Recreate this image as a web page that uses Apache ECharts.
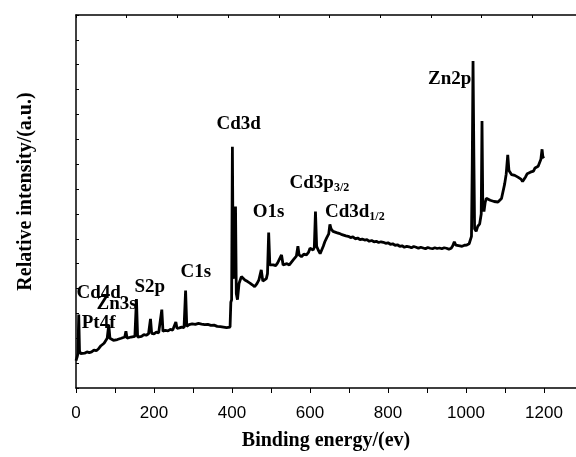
<!DOCTYPE html>
<html>
<head>
<meta charset="utf-8">
<script src="https://cdn.jsdelivr.net/npm/echarts@6/dist/echarts.min.js"></script>
<style>
    html, body { margin: 0; padding: 0; background: #fff; }
    #xps { width: 576px; height: 457px; }
</style>
</head>
<body>
<div id="xps"></div>
<script>
    // survey spectrum (binding energy in eV, intensity in axis units)
    const energy = [
        0, 3, 5, 7, 9, 12, 17, 22, 28, 34, 40, 46, 52, 58, 64, 68, 72, 76, 80, 84, 87, 91, 96, 101, 106, 111, 116, 121, 125, 128, 131, 136, 141, 146, 151, 155, 158, 163, 168, 174, 180, 186, 191, 194, 200, 206, 212, 217, 220, 223, 229, 236, 242, 248, 253, 256, 259, 265, 271, 277, 281, 284, 290, 298, 306, 314, 322, 330, 338, 346, 354, 362, 370, 378, 386, 391, 395, 397, 399, 401, 403, 406, 409, 411, 414, 418, 424, 429, 433, 440, 446, 452, 458, 464, 469, 475, 479, 484, 488, 491, 494, 497, 501, 506, 512, 517, 522, 527, 531, 535, 541, 547, 552, 557, 561, 565, 569, 572, 578, 584, 591, 596, 600, 604, 608, 611, 614, 617, 621, 626, 630, 634, 638, 643, 648, 651, 654, 659, 664, 668, 674, 680, 686, 692, 698, 704, 710, 716, 722, 728, 734, 740, 746, 752, 758, 764, 770, 776, 782, 788, 794, 800, 806, 812, 818, 824, 830, 836, 842, 848, 854, 860, 866, 872, 878, 884, 890, 896, 902, 908, 914, 920, 926, 932, 938, 944, 950, 956, 962, 966, 970, 974, 978, 984, 990, 996, 1002, 1008, 1012, 1014, 1016, 1018, 1020, 1022, 1026, 1030, 1035, 1039, 1041, 1043, 1046, 1049, 1052, 1057, 1062, 1067, 1072, 1077, 1082, 1087, 1091, 1095, 1099, 1103, 1107, 1110, 1113, 1117, 1121, 1125, 1129, 1133, 1137, 1141, 1145, 1149, 1153, 1157, 1161, 1165, 1169, 1173, 1177, 1181, 1185, 1189, 1192, 1195, 1197, 1200
    ];
    const intensity = [
        1.10, 1.25, 1.40, 2.95, 1.50, 1.38, 1.42, 1.40, 1.45, 1.42, 1.45, 1.52, 1.50, 1.58, 1.70, 1.66, 1.80, 1.88, 2.00, 2.55, 2.00, 1.94, 1.92, 1.97, 1.95, 2.02, 2.00, 2.08, 2.05, 2.28, 2.00, 2.02, 2.05, 2.03, 2.08, 3.58, 2.05, 2.10, 2.08, 2.15, 2.12, 2.18, 2.78, 2.20, 2.18, 2.25, 2.22, 2.28, 3.15, 2.28, 2.32, 2.30, 2.36, 2.33, 2.38, 2.65, 2.40, 2.42, 2.45, 2.43, 3.92, 2.48, 2.55, 2.58, 2.56, 2.60, 2.57, 2.55, 2.56, 2.52, 2.53, 2.48, 2.47, 2.45, 2.43, 2.42, 2.45, 3.45, 3.55, 9.70, 4.60, 4.40, 7.30, 3.80, 3.55, 4.20, 4.48, 4.40, 4.34, 4.28, 4.22, 4.15, 4.07, 4.20, 4.35, 4.75, 4.30, 4.22, 4.40, 4.60, 6.25, 4.95, 4.88, 4.95, 4.92, 5.03, 5.10, 5.35, 4.95, 4.88, 5.00, 4.95, 5.02, 5.15, 5.23, 5.30, 5.70, 5.35, 5.28, 5.38, 5.35, 5.45, 5.62, 5.58, 5.55, 5.65, 7.10, 5.70, 5.55, 5.40, 5.45, 5.70, 5.88, 6.05, 6.20, 6.58, 6.40, 6.30, 6.32, 6.25, 6.22, 6.18, 6.15, 6.12, 6.10, 6.05, 6.08, 6.00, 6.03, 5.97, 5.99, 5.95, 5.97, 5.90, 5.93, 5.88, 5.90, 5.85, 5.88, 5.86, 5.82, 5.84, 5.78, 5.80, 5.74, 5.76, 5.70, 5.72, 5.66, 5.70, 5.68, 5.64, 5.69, 5.66, 5.62, 5.66, 5.63, 5.60, 5.65, 5.62, 5.60, 5.64, 5.61, 5.63, 5.60, 5.64, 5.62, 5.58, 5.62, 5.72, 5.88, 5.75, 5.68, 5.72, 5.70, 5.74, 5.75, 5.80, 5.85, 6.10, 9.00, 13.15, 9.50, 6.40, 6.30, 6.50, 6.60, 7.00, 10.74, 7.30, 7.10, 7.45, 7.63, 7.60, 7.55, 7.58, 7.50, 7.52, 7.48, 7.55, 7.62, 7.70, 8.20, 8.60, 9.38, 8.75, 8.70, 8.58, 8.62, 8.55, 8.52, 8.48, 8.42, 8.40, 8.30, 8.38, 8.50, 8.62, 8.58, 8.68, 8.75, 8.72, 8.85, 8.80, 8.92, 8.97, 9.20, 9.60, 9.30, 9.24
    ];

    // peak annotations, placed in data units
    const peakNames = ['Cd4d', 'Zn3s', 'Pt4f', 'S2p', 'C1s', 'Cd3d', 'O1s', 'Cd3p{sub|3/2}', 'Cd3d{sub|1/2}', 'Zn2p'];
    const peakEnergy = [58, 104, 58, 189, 307, 417, 494, 624, 715, 958];
    const peakLevel = [3.82, 3.38, 2.61, 4.06, 4.66, 10.62, 7.08, 8.24, 7.07, 12.42];

    const xTicks = [0, 200, 400, 600, 800, 1000, 1200];

    const myChart = echarts.init(document.getElementById('xps'));
    const option = {
        animation: false,
        backgroundColor: '#fff',
        grid: { left: 76, top: 15, right: 0, bottom: 69 },
        xAxis: [
            {
                type: 'value',
                position: 'bottom',
                min: 0,
                max: 1282,
                interval: 100,
                name: 'Binding energy/(ev)',
                nameLocation: 'middle',
                nameGap: 43,
                nameTextStyle: { fontFamily: 'Liberation Serif', fontWeight: 'bold', fontSize: 20, color: '#000' },
                axisLine: { lineStyle: { color: '#000', width: 1.5 } },
                axisTick: { inside: false, length: 5, lineStyle: { color: '#000' } },
                axisLabel: {
                    margin: 17,
                    fontFamily: 'Liberation Sans',
                    fontSize: 17,
                    color: '#000',
                    showMaxLabel: false,
                    formatter: v => (xTicks.indexOf(v) >= 0 ? String(v) : '')
                },
                splitLine: { show: false }
            },
            {
                type: 'value',
                position: 'top',
                min: 0,
                max: 1282,
                interval: 130,
                axisLine: { lineStyle: { color: '#000', width: 1.5 } },
                axisTick: { inside: true, length: 3, lineStyle: { color: '#000' } },
                axisLabel: { show: false },
                splitLine: { show: false }
            }
        ],
        yAxis: {
            type: 'value',
            min: 0,
            max: 15,
            interval: 1,
            name: 'Relative intensity/(a.u.)',
            nameLocation: 'middle',
            nameGap: 40,
            nameTextStyle: { fontFamily: 'Liberation Serif', fontWeight: 'bold', fontSize: 20, color: '#000', padding: [0, 0, 0, 20] },
            axisLine: { show: true, lineStyle: { color: '#000', width: 1.5 } },
            axisTick: { show: true, inside: true, length: 3, lineStyle: { color: '#000' } },
            axisLabel: { show: false },
            splitLine: { show: false }
        },
        series: [
            {
                type: 'line',
                data: energy.map((e, i) => [e, intensity[i]]),
                showSymbol: false,
                symbol: 'none',
                lineStyle: { color: '#000', width: 2.8 },
                markPoint: {
                    symbol: 'circle',
                    symbolSize: 0,
                    silent: true,
                    label: {
                        show: true,
                        position: 'inside',
                        color: '#000',
                        fontFamily: 'Liberation Serif',
                        fontWeight: 'bold',
                        fontSize: 19,
                        rich: {
                            sub: { fontFamily: 'Liberation Serif', fontWeight: 'bold', fontSize: 12, color: '#000', padding: [10, 0, 0, 0] }
                        }
                    },
                    data: peakNames.map((n, i) => ({
                        coord: [peakEnergy[i], peakLevel[i]],
                        label: { formatter: n }
                    }))
                }
            }
        ]
    };
    myChart.setOption(option);
</script>
</body>
</html>
